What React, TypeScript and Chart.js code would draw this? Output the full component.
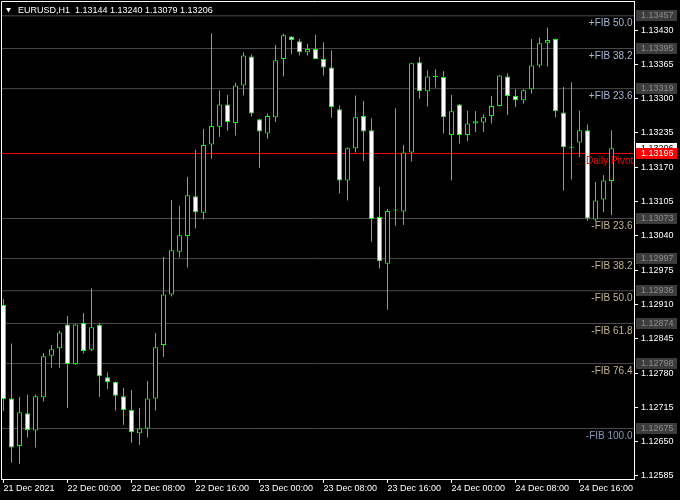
import React, { useEffect, useRef } from "react";
import { Chart, registerables } from "chart.js";

Chart.register(...registerables);

// ---- Data (EURUSD H1, 21 Dec 16:00 .. 24 Dec 20:00) ----
const symbolTitle = "EURUSD,H1";

const opens = [
  1.12909, 1.12732, 1.12642, 1.12704, 1.12671, 1.12734, 1.12813, 1.12827, 1.12872, 1.12797,
  1.12875, 1.12824, 1.12871, 1.12772, 1.12763, 1.12736, 1.1271, 1.12666, 1.12675, 1.12732,
  1.12833, 1.12929, 1.1301, 1.1304, 1.13115, 1.13084, 1.13213, 1.13247, 1.13289, 1.13254,
  1.13325, 1.1338, 1.13261, 1.13234, 1.13265, 1.13375, 1.13418, 1.13409, 1.13388, 1.13394,
  1.13375, 1.13359, 1.1328, 1.13145, 1.13206, 1.13267, 1.1324, 1.13076, 1.12987, 1.13088,
  1.13086, 1.13198, 1.13369, 1.13314, 1.13341, 1.13341, 1.13231, 1.13289, 1.13231, 1.13253,
  1.13255, 1.13267, 1.13286, 1.13342, 1.13305, 1.13297, 1.13318, 1.13363, 1.13405, 1.13413,
  1.13274, 1.13208, 1.13217, 1.1324, 1.13071, 1.13109, 1.13144,
];
const highs = [
  1.1292, 1.12836, 1.12735, 1.12739, 1.12739, 1.12818, 1.12833, 1.1286, 1.12888, 1.12873,
  1.12894, 1.12941, 1.12874, 1.12781, 1.12764, 1.12752, 1.12748, 1.12714, 1.12765, 1.12856,
  1.13, 1.13108, 1.13097, 1.13152, 1.13203, 1.13243, 1.13424, 1.13316, 1.13307, 1.1333,
  1.13388, 1.13384, 1.13262, 1.13272, 1.13402, 1.13423, 1.13419, 1.13413, 1.13404, 1.13421,
  1.13407, 1.13392, 1.13287, 1.13208, 1.13306, 1.13296, 1.13263, 1.13133, 1.13091, 1.13282,
  1.13212, 1.13368, 1.13379, 1.13354, 1.13356, 1.13352, 1.13307, 1.1329, 1.13277, 1.13276,
  1.1327, 1.13305, 1.13345, 1.13348, 1.13318, 1.13318, 1.13413, 1.13416, 1.13435, 1.13414,
  1.13322, 1.13331, 1.13277, 1.13251, 1.13142, 1.13155, 1.1324,
];
const lows = [
  1.12708, 1.1261, 1.12608, 1.12658, 1.12639, 1.12726, 1.1279, 1.1279, 1.12714, 1.12796,
  1.12817, 1.12822, 1.12735, 1.1275, 1.12709, 1.12682, 1.12648, 1.12644, 1.12658, 1.12709,
  1.12811, 1.12925, 1.12999, 1.1298, 1.13054, 1.13071, 1.13186, 1.13228, 1.13239, 1.1323,
  1.13306, 1.13266, 1.13169, 1.13224, 1.13256, 1.13342, 1.13384, 1.13382, 1.13382, 1.13375,
  1.13344, 1.13264, 1.13121, 1.13107, 1.13198, 1.13182, 1.13029, 1.12978, 1.129, 1.13059,
  1.13061, 1.13181, 1.133, 1.13285, 1.13321, 1.13234, 1.13145, 1.13215, 1.1322, 1.13237,
  1.13237, 1.13253, 1.13285, 1.13269, 1.13284, 1.13291, 1.1331, 1.13359, 1.13361, 1.13265,
  1.13126, 1.13147, 1.13189, 1.13068, 1.13068, 1.13085, 1.13079,
];
const closes = [
  1.12731, 1.12639, 1.12706, 1.12672, 1.12736, 1.12812, 1.12825, 1.12857, 1.12797, 1.12872,
  1.12822, 1.12867, 1.12774, 1.12763, 1.12737, 1.1271, 1.12668, 1.12675, 1.12732, 1.12829,
  1.12929, 1.13013, 1.13041, 1.13117, 1.13085, 1.13212, 1.13248, 1.13289, 1.13256, 1.13325,
  1.13382, 1.13272, 1.13238, 1.13267, 1.13373, 1.1342, 1.13411, 1.13388, 1.13394, 1.13375,
  1.13359, 1.13284, 1.13145, 1.13206, 1.13265, 1.13238, 1.13072, 1.12992, 1.13087, 1.13089,
  1.13198, 1.13367, 1.13314, 1.13342, 1.13343, 1.13265, 1.13276, 1.13231, 1.13253, 1.13257,
  1.13265, 1.13286, 1.13344, 1.13305, 1.13297, 1.13316, 1.13363, 1.13405, 1.13411, 1.13276,
  1.13208, 1.13207, 1.1324, 1.13073, 1.13107, 1.13145, 1.13206,
];

const xTickPositions = [0, 8, 16, 24, 32, 40, 48, 56, 64, 72];
const xTickLabels = [
  "21 Dec 2021", "22 Dec 00:00", "22 Dec 08:00", "22 Dec 16:00", "23 Dec 00:00",
  "23 Dec 08:00", "23 Dec 16:00", "24 Dec 00:00", "24 Dec 08:00", "24 Dec 16:00",
];
const yTickValues = [
  1.1343, 1.13365, 1.133, 1.13235, 1.1317, 1.13105, 1.1304, 1.12975, 1.1291,
  1.12845, 1.1278, 1.12715, 1.1265, 1.12585,
];

const fibNames = [
  "+FIB 50.0", "+FIB 38.2", "+FIB 23.6", "-FIB 23.6", "-FIB 38.2",
  "-FIB 50.0", "-FIB 61.8", "-FIB 76.4", "-FIB 100.0",
];
const fibValues = [1.13457, 1.13395, 1.13319, 1.13073, 1.12997, 1.12936, 1.12874, 1.12798, 1.12675];
const fibTextColors = [
  "#a9b9d8", "#a9b9d8", "#a9b9d8", "#c4b590", "#c4b590",
  "#c4b590", "#c4b590", "#c4b590", "#8a98b8",
];
const pivotName = "Daily Pivot";
const pivotValue = 1.13196;

// axis ranges
const xMin = -0.3125;
const xMax = 78.8125;
const yMin = 1.125793;
const yMax = 1.134851;

const FONT = '"Liberation Sans", Arial, sans-serif';
const GREEN = "#00ff00";

const overlayPlugin = {
  id: "mt4Overlay",
  afterDatasetsDraw(chart: any) {
    const { ctx, chartArea, scales } = chart;
    const ys = scales.y;
    ctx.save();
    ctx.beginPath();
    ctx.rect(chartArea.left, chartArea.top, chartArea.right - chartArea.left, chartArea.bottom - chartArea.top);
    ctx.clip();
    ctx.font = `10px ${FONT}`;
    ctx.textBaseline = "alphabetic";
    ctx.textAlign = "right";
    fibValues.forEach((v, i) => {
      ctx.fillStyle = fibTextColors[i];
      ctx.fillText(fibNames[i], chartArea.right - 1.5, ys.getPixelForValue(v) + 10.5);
    });
    ctx.textAlign = "left";
    ctx.fillStyle = "#ff0000";
    ctx.fillText(pivotName, chartArea.right - 48, ys.getPixelForValue(pivotValue) + 10);
    ctx.restore();
  },
  afterDraw(chart: any) {
    const { ctx, chartArea, scales } = chart;
    const ys = scales.y;
    ctx.save();
    // frame (left and top; right and bottom are the axis borders)
    ctx.strokeStyle = "#ffffff";
    ctx.lineWidth = 1;
    ctx.beginPath();
    ctx.moveTo(chartArea.left + 0.5, chartArea.bottom);
    ctx.lineTo(chartArea.left + 0.5, chartArea.top + 0.5);
    ctx.lineTo(chartArea.right, chartArea.top + 0.5);
    ctx.stroke();

    // price boxes on the right axis
    const boxX = chartArea.right + 2;
    const boxW = 41;
    const boxH = 11;
    const textX = chartArea.right + 7;
    ctx.font = `9px ${FONT}`;
    ctx.textBaseline = "middle";
    ctx.textAlign = "left";
    const drawBox = (v: number, bg: string, fg: string) => {
      const py = ys.getPixelForValue(v);
      const top = Math.round(py - boxH / 2);
      ctx.fillStyle = bg;
      ctx.fillRect(boxX, top, boxW, boxH);
      ctx.fillStyle = fg;
      ctx.fillText(v.toFixed(5), textX, top + boxH / 2 + 0.5);
    };
    fibValues.forEach((v) => drawBox(v, "#3c3c3c", "#8c8c8c"));
    drawBox(closes[closes.length - 1], "#ffffff", "#000000");
    drawBox(pivotValue, "#ff0000", "#ffffff");

    // header
    const n = closes.length - 1;
    ctx.fillStyle = "#ffffff";
    ctx.beginPath();
    ctx.moveTo(6, 8);
    ctx.lineTo(11, 8);
    ctx.lineTo(8.5, 12.5);
    ctx.closePath();
    ctx.fill();
    ctx.font = `9px ${FONT}`;
    ctx.textBaseline = "middle";
    ctx.fillText(
      `${symbolTitle}  ${opens[n].toFixed(5)} ${highs[n].toFixed(5)} ${lows[n].toFixed(5)} ${closes[n].toFixed(5)}`,
      18,
      10.5
    );
    ctx.restore();
  },
};

export default function App() {
  const canvasRef = useRef<HTMLCanvasElement | null>(null);

  useEffect(() => {
    const canvas = canvasRef.current;
    if (!canvas) return;

    const wickData = lows.map((l, i) => ({ x: i, y: [l, highs[i]] }));
    const bodyData = opens.map((o, i) => ({ x: i, y: [Math.min(o, closes[i]), Math.max(o, closes[i])] }));
    const bodyColors = opens.map((o, i) => (closes[i] >= o ? "#000000" : "#ffffff"));

    const levelDatasets: any[] = fibValues.map((v) => ({
      type: "line",
      data: [{ x: xMin, y: v }, { x: xMax, y: v }],
      borderColor: "#4a4a4a",
      borderWidth: 1,
      pointRadius: 0,
      order: 3,
    }));
    levelDatasets.push({
      type: "line",
      data: [{ x: xMin, y: pivotValue }, { x: xMax, y: pivotValue }],
      borderColor: "#ff0000",
      borderWidth: 1,
      pointRadius: 0,
      order: 3,
    });

    const chart = new Chart(canvas, {
      type: "bar",
      data: {
        datasets: [
          ...levelDatasets,
          {
            type: "bar",
            data: wickData as any,
            backgroundColor: GREEN,
            borderWidth: 0,
            barThickness: 1,
            grouped: false,
            inflateAmount: 0,
            order: 2,
          },
          {
            type: "bar",
            data: bodyData as any,
            backgroundColor: bodyColors,
            borderColor: GREEN,
            borderWidth: 1,
            borderSkipped: false,
            barThickness: 5,
            minBarLength: 1,
            grouped: false,
            inflateAmount: 0,
            order: 1,
          },
        ],
      },
      options: {
        responsive: false,
        animation: false,
        devicePixelRatio: 1,
        layout: { padding: { left: 1, top: 1, right: 0, bottom: 0 } },
        plugins: { legend: { display: false }, tooltip: { enabled: false } },
        scales: {
          x: {
            type: "linear",
            min: xMin,
            max: xMax,
            offset: false,
            grid: {
              display: true,
              drawOnChartArea: false,
              drawTicks: true,
              tickLength: 4,
              color: "#ffffff",
              offset: false,
            },
            border: { display: true, color: "#ffffff" },
            ticks: {
              autoSkip: false,
              maxRotation: 0,
              align: "start",
              padding: 0,
              color: "#ffffff",
              font: { family: FONT, size: 9 },
              callback: (_v: any, i: number) => xTickLabels[i],
            },
            afterBuildTicks: (scale: any) => {
              scale.ticks = xTickPositions.map((v) => ({ value: v }));
            },
            afterFit: (scale: any) => {
              scale.height = 21;
              scale.paddingLeft = 0;
              scale.paddingRight = 0;
            },
          },
          y: {
            type: "linear",
            position: "right",
            min: yMin,
            max: yMax,
            beginAtZero: false,
            grid: {
              display: true,
              drawOnChartArea: false,
              drawTicks: true,
              tickLength: 4,
              color: "#ffffff",
            },
            border: { display: true, color: "#ffffff" },
            ticks: {
              autoSkip: false,
              padding: 3,
              color: "#ffffff",
              font: { family: FONT, size: 9 },
              callback: (v: any) => Number(v).toFixed(5),
            },
            afterBuildTicks: (scale: any) => {
              scale.ticks = yTickValues.map((v) => ({ value: v }));
            },
            afterFit: (scale: any) => {
              scale.width = 46;
              scale.paddingTop = 0;
              scale.paddingBottom = 0;
            },
          },
        },
      } as any,
      plugins: [overlayPlugin],
    });

    return () => chart.destroy();
  }, []);

  return (
    <div style={{ position: "fixed", left: 0, top: 0, width: 680, height: 500, background: "#000000" }}>
      <canvas ref={canvasRef} width={680} height={500} style={{ display: "block" }} />
    </div>
  );
}
